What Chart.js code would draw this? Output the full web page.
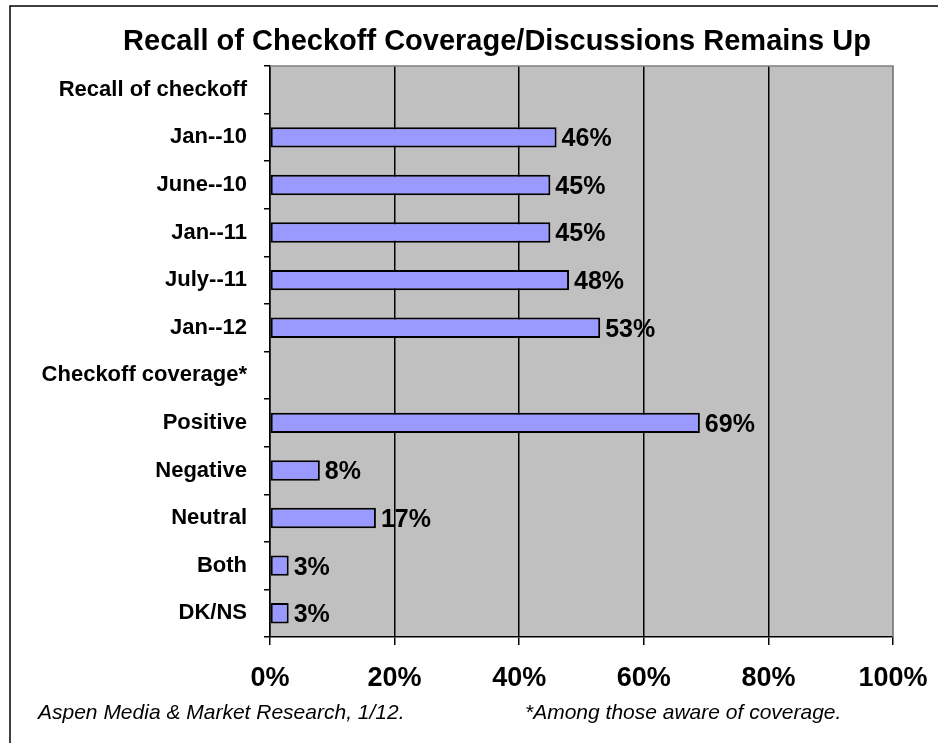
<!DOCTYPE html>
<html>
<head>
<meta charset="utf-8">
<script src="https://cdn.jsdelivr.net/npm/chart.js@4.4.1/dist/chart.umd.min.js"></script>
<style>
  html, body { margin: 0; padding: 0; background: #fff; }
  #wrap { width: 938px; height: 743px; position: relative; }
</style>
</head>
<body>
<div id="wrap"><canvas id="recallChart" width="938" height="743"></canvas></div>
<script>
// chart data
const categories = ['Recall of checkoff', 'Jan--10', 'June--10', 'Jan--11', 'July--11', 'Jan--12',
    'Checkoff coverage*', 'Positive', 'Negative', 'Neutral', 'Both', 'DK/NS'];
const percentValues = [null, 46, 45, 45, 48, 53, null, 69, 8, 17, 3, 3];
const tickValues = [0, 20, 40, 60, 80, 100];
const titleText = 'Recall of Checkoff Coverage/Discussions Remains Up';
const sourceNote = 'Aspen Media & Market Research, 1/12.';
const footNote = '*Among those aware of coverage.';

const FONT = 'Arial, "Liberation Sans", sans-serif';

// gray plot area + outer frame + title + notes
const decorPlugin = {
    id: 'decor',
    beforeDraw(chart) {
        const ctx = chart.ctx;
        const a = chart.chartArea;
        ctx.save();
        ctx.fillStyle = '#fff';
        ctx.fillRect(0, 0, chart.width, chart.height);
        ctx.fillStyle = '#C0C0C0';
        ctx.fillRect(a.left, a.top, a.right - a.left, a.bottom - a.top);
        // outer frame (left and top edges visible)
        ctx.strokeStyle = '#000';
        ctx.lineWidth = 1.5;
        ctx.beginPath();
        ctx.moveTo(10, chart.height + 5);
        ctx.lineTo(10, 6);
        ctx.lineTo(chart.width + 5, 6);
        ctx.stroke();
        ctx.restore();
    },
    afterDraw(chart) {
        const ctx = chart.ctx;
        const a = chart.chartArea;
        ctx.save();
        // gray top/right plot border
        ctx.strokeStyle = '#808080';
        ctx.lineWidth = 1.5;
        ctx.beginPath();
        ctx.moveTo(a.left, a.top);
        ctx.lineTo(a.right, a.top);
        ctx.lineTo(a.right, a.bottom);
        ctx.stroke();
        // title
        ctx.fillStyle = '#000';
        ctx.font = 'bold 29px ' + FONT;
        ctx.textAlign = 'center';
        ctx.textBaseline = 'middle';
        ctx.fillText(titleText, 497, 42);
        // notes
        ctx.font = 'italic 21px ' + FONT;
        ctx.textAlign = 'left';
        ctx.fillText(sourceNote, 38, 713);
        ctx.fillText(footNote, 525, 713);
        ctx.restore();
    }
};

// value labels at bar ends
const valueLabels = {
    id: 'valueLabels',
    afterDatasetsDraw(chart) {
        const ctx = chart.ctx;
        const meta = chart.getDatasetMeta(0);
        ctx.save();
        ctx.font = 'bold 25px ' + FONT;
        ctx.fillStyle = '#000';
        ctx.textAlign = 'left';
        ctx.textBaseline = 'middle';
        meta.data.forEach((bar, i) => {
            const v = percentValues[i];
            if (v === null) return;
            ctx.fillText(v + '%', bar.x + 5, bar.y + 2);
        });
        ctx.restore();
    }
};

const ctx = document.querySelector('#recallChart').getContext('2d');
new Chart(ctx, {
    type: 'bar',
    data: {
        labels: categories,
        datasets: [{
            data: percentValues,
            backgroundColor: '#9999FF',
            borderColor: '#000',
            borderWidth: 2,
            borderSkipped: false,
            barPercentage: 0.43,
            categoryPercentage: 1
        }]
    },
    options: {
        indexAxis: 'y',
        responsive: false,
        animation: false,
        devicePixelRatio: 1,
        layout: { padding: { left: 0, right: 45, top: 66, bottom: 0 } },
        plugins: {
            legend: { display: false },
            tooltip: { enabled: false },
            title: { display: false }
        },
        scales: {
            x: {
                min: 0,
                max: 100,
                afterBuildTicks(axis) {
                    axis.ticks = tickValues.map(v => ({ value: v }));
                },
                afterFit(axis) {
                    axis.height = 106;
                    axis.paddingLeft = 0;
                    axis.paddingRight = 0;
                },
                grid: {
                    color: ctx2 => ctx2.tick && ctx2.tick.value === 100 ? '#808080' : '#000',
                    tickColor: '#000',
                    lineWidth: 1.5,
                    tickLength: 8
                },
                border: { display: true, color: '#000', width: 1.5 },
                ticks: {
                    color: '#000',
                    padding: 17,
                    font: { family: FONT, size: 27, weight: 'bold' },
                    maxRotation: 0,
                    callback: v => v + '%'
                }
            },
            y: {
                afterFit(axis) { axis.width = 270; },
                grid: {
                    offset: true,
                    drawOnChartArea: false,
                    color: '#000',
                    lineWidth: 1.5,
                    tickLength: 6
                },
                border: { display: true, color: '#000', width: 1.5 },
                ticks: {
                    color: '#000',
                    padding: 17,
                    autoSkip: false,
                    font: { family: FONT, size: 22, weight: 'bold' }
                }
            }
        }
    },
    plugins: [decorPlugin, valueLabels]
});
</script>
</body>
</html>
